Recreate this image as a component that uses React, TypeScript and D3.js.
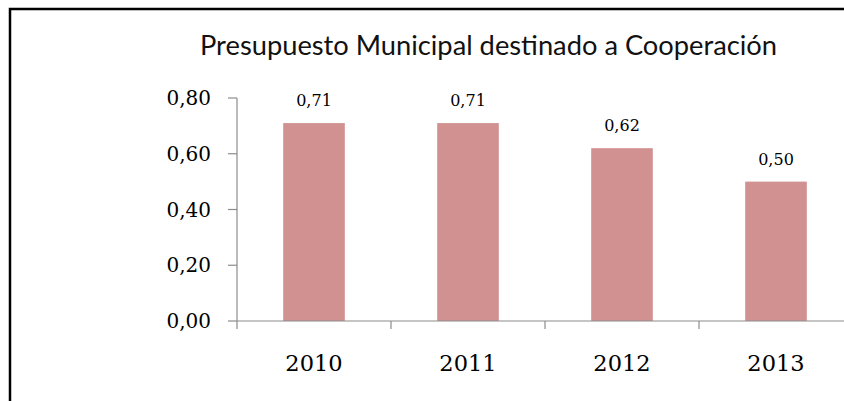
import React from "react";
import * as d3 from "d3";

const title = "Presupuesto Municipal destinado a Cooperación";
const categories = ["2010", "2011", "2012", "2013"];
const values = [0.71, 0.71, 0.62, 0.5];
const yTicks = [0, 0.2, 0.4, 0.6, 0.8];

const W = 844;
const H = 401;

const fmt = (v: number) => v.toFixed(2).replace(".", ",");

export default function App() {
  const x0 = 237;
  const step = 154;
  const x = d3
    .scaleBand<string>()
    .domain(categories)
    .range([x0, x0 + step * categories.length])
    .paddingInner(0.6)
    .paddingOuter(0.3);
  const y = d3.scaleLinear().domain([0, 0.8]).range([321, 98]);
  const axisColor = "#8c8c8c";
  const serif = "'DejaVu Serif', serif";

  return (
    <svg
      width={W}
      height={H}
      style={{ position: "absolute", left: 0, top: 0, background: "#fff" }}
    >
      <rect x={0} y={0} width={W} height={H} fill="#fff" />
      <path d={`M10,${H} L10,9 L${W},9`} fill="none" stroke="#000" strokeWidth={2.5} />
      <text
        x={200}
        y={55}
        textLength={577}
        lengthAdjust="spacingAndGlyphs"
        fontFamily="Lato, 'Open Sans', sans-serif"
        fontSize={26}
        fill="#111"
      >
        {title}
      </text>
      {/* y axis */}
      <line x1={x0} x2={x0} y1={y(0.8)} y2={y(0) + 8} stroke={axisColor} strokeWidth={1.2} />
      {yTicks.map((t) => (
        <g key={t}>
          <line x1={x0 - 9} x2={x0} y1={y(t)} y2={y(t)} stroke={axisColor} strokeWidth={1.2} />
          <text
            x={x0 - 26}
            y={y(t)}
            dy="0.35em"
            textAnchor="end"
            fontFamily={serif}
            fontSize={20}
            fill="#000"
          >
            {fmt(t)}
          </text>
        </g>
      ))}
      {/* bars */}
      {categories.map((c, i) => (
        <g key={c}>
          <rect
            x={x(c)!}
            y={y(values[i])}
            width={x.bandwidth()}
            height={y(0) - y(values[i])}
            fill="#d19190"
          />
          <text
            x={x(c)! + x.bandwidth() / 2}
            y={y(values[i]) - 17}
            textAnchor="middle"
            fontFamily={serif}
            fontSize={16}
            fill="#000"
          >
            {fmt(values[i])}
          </text>
          <text
            x={x(c)! + x.bandwidth() / 2}
            y={371}
            textAnchor="middle"
            fontFamily={serif}
            fontSize={22.5}
            fill="#000"
          >
            {c}
          </text>
        </g>
      ))}
      {/* x axis */}
      <line x1={x0} x2={x0 + step * categories.length} y1={y(0)} y2={y(0)} stroke={axisColor} strokeWidth={1.2} />
      {categories.map((c, i) =>
        i === 0 ? null : (
          <line
            key={"t" + c}
            x1={x0 + step * i}
            x2={x0 + step * i}
            y1={y(0)}
            y2={y(0) + 8}
            stroke={axisColor}
            strokeWidth={1.2}
          />
        )
      )}
    </svg>
  );
}
